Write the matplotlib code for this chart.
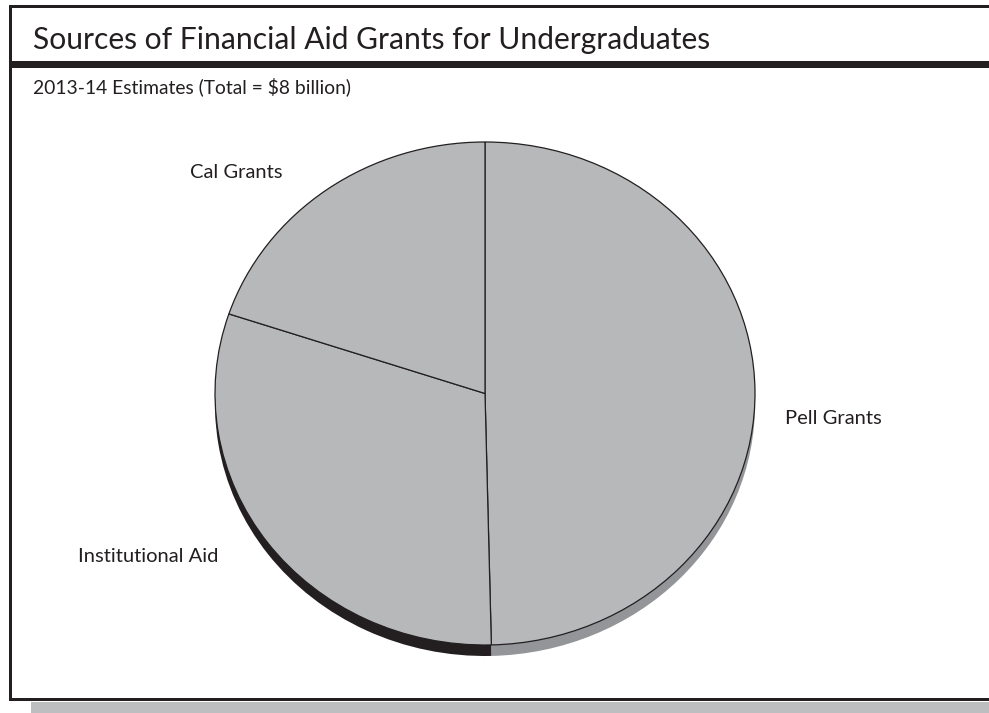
import matplotlib
matplotlib.use("Agg")
import matplotlib.pyplot as plt
from matplotlib.patches import Rectangle

# 2013-14 estimates, billions (total = $8 billion)
fontes = ["Pell Grants", "Institutional Aid", "Cal Grants"]
valores = [3.97, 2.44, 1.59]

titulo = "Sources of Financial Aid Grants for Undergraduates"
subtitulo = "2013-14 Estimates (Total = $8 billion)"

cor_face = "#b7b8ba"
cor_lado = ["#939598", "#231f20", "#231f20"]
preto = "#231f20"

plt.rcParams["font.family"] = ["Lato", "DejaVu Sans"]

W, H = 989, 713
fig = plt.figure(figsize=(W / 100, H / 100), dpi=100)

# moldura em coordenadas de pixel
bg = fig.add_axes([0, 0, 1, 1])
bg.set_xlim(0, W)
bg.set_ylim(H, 0)
bg.axis("off")
bg.add_patch(Rectangle((31, 702), W, 12, color="#bcbec0", lw=0))
bg.add_patch(Rectangle((9, 5), W, 2.5, color=preto, lw=0))
bg.add_patch(Rectangle((9, 5), 3, 696, color=preto, lw=0))
bg.add_patch(Rectangle((9, 698), W, 3, color=preto, lw=0))
bg.add_patch(Rectangle((12, 61), W, 7, color=preto, lw=0))

bg.text(33, 40, titulo, fontsize=21.6, va="center", ha="left", color=preto)
bg.text(33, 87, subtitulo, fontsize=13.9, va="center", ha="left", color=preto)

# pizza (elipse 540 x 503 px, centro em 485, 393)
cx, cy, rx, ry = 485, 393.5, 270, 251.5
ax = fig.add_axes([(cx - rx) / W, (H - cy - ry) / H, 2 * rx / W, 2 * ry / H])
prof = 11 / ry

lado, _ = ax.pie(valores, startangle=90, counterclock=False, colors=cor_lado,
                 center=(0, -prof), wedgeprops=dict(linewidth=0))
face, _ = ax.pie(valores, startangle=90, counterclock=False, colors=[cor_face] * 3,
                 wedgeprops=dict(linewidth=0.9, edgecolor=preto))
for w in lado + face:
    w.set_clip_on(False)
ax.set_aspect("auto")
ax.set_xlim(-1, 1)
ax.set_ylim(-1, 1)
ax.axis("off")

# rótulos
bg.text(785, 418, fontes[0], fontsize=14.5, ha="left", va="center", color=preto)
bg.text(218, 556, fontes[1], fontsize=14.5, ha="right", va="center", color=preto)
bg.text(282, 172, fontes[2], fontsize=14.5, ha="right", va="center", color=preto)

fig.savefig("out.png", dpi=100)
